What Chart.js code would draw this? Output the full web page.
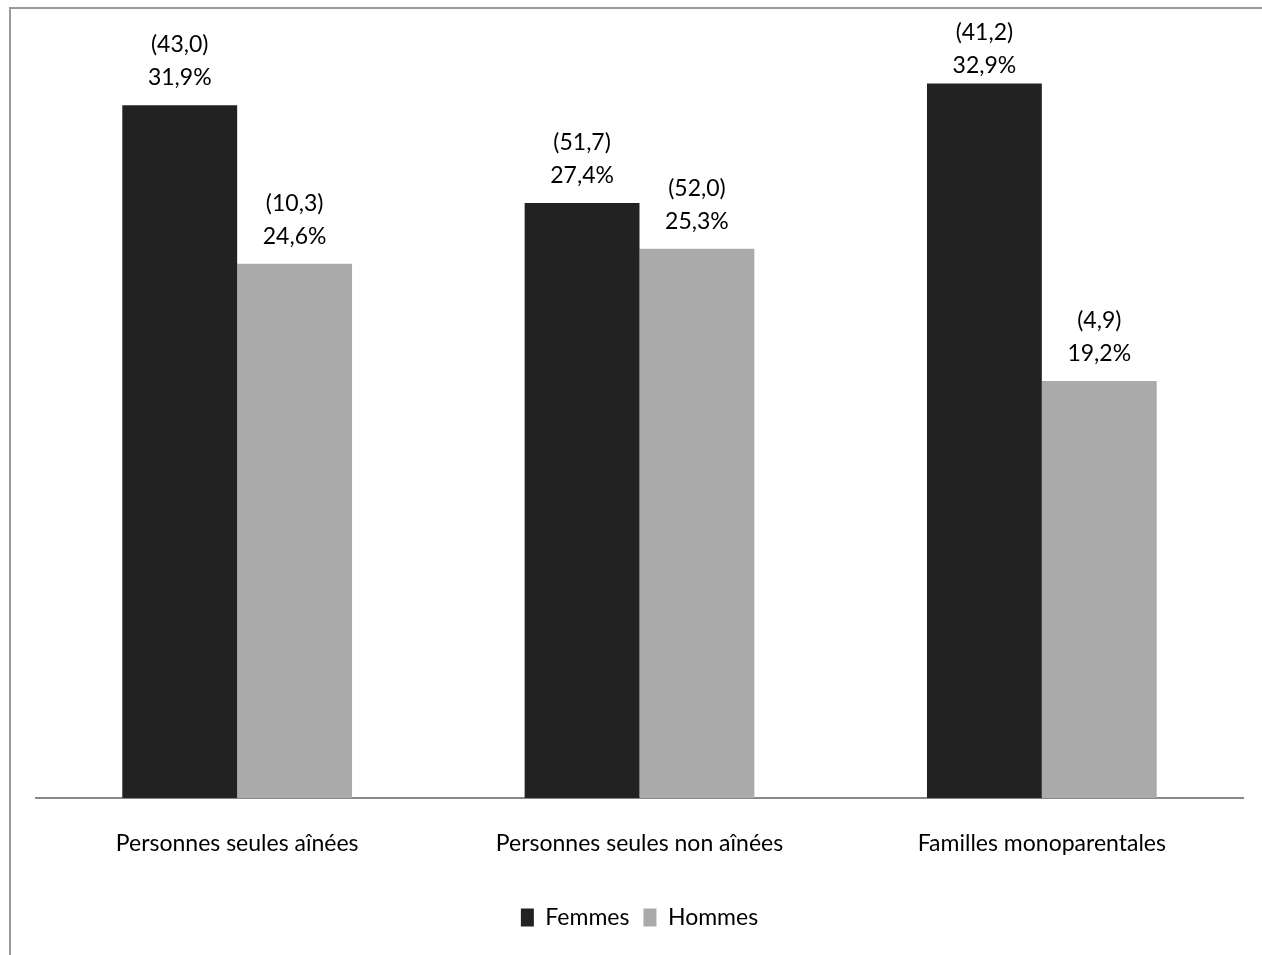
<!DOCTYPE html>
<html>
<head>
<meta charset="utf-8">
<script src="https://cdn.jsdelivr.net/npm/chart.js@4/dist/chart.umd.min.js"></script>
<style>
  html, body { margin: 0; padding: 0; background: #fff; }
  #wrap { position: relative; width: 1262px; height: 955px; }
</style>
</head>
<body>
<div id="wrap"><canvas id="chart"></canvas></div>
<script>
// categories and values
const categories = ['Personnes seules aînées', 'Personnes seules non aînées', 'Familles monoparentales'];
const femmesPct = [31.9, 27.4, 32.9];
const hommesPct = [24.6, 25.3, 19.2];
const femmesCounts = ['43,0', '51,7', '41,2'];
const hommesCounts = ['10,3', '52,0', '4,9'];

const FONT = 'Lato, "Open Sans", sans-serif';

// outer frame like the spreadsheet chart border
const framePlugin = {
    id: 'frame',
    beforeDraw(chart) {
        const ctx = chart.ctx;
        ctx.save();
        ctx.strokeStyle = '#9a9a9a';
        ctx.lineWidth = 2;
        ctx.beginPath();
        ctx.moveTo(10, chart.height + 5);
        ctx.lineTo(10, 8);
        ctx.lineTo(chart.width + 5, 8);
        ctx.stroke();
        ctx.restore();
    }
};

// two-line value labels above each bar: (count) then percent
// labels that would hit the frame get pushed down (like excel does)
const valueLabels = {
    id: 'valueLabels',
    afterDatasetsDraw(chart) {
        const ctx = chart.ctx;
        ctx.save();
        ctx.fillStyle = '#000';
        ctx.font = '23px ' + FONT;
        ctx.textAlign = 'center';
        ctx.textBaseline = 'alphabetic';
        chart.data.datasets.forEach((ds, i) => {
            const meta = chart.getDatasetMeta(i);
            meta.data.forEach((bar, j) => {
                const pct = ds.data[j].toFixed(1).replace('.', ',') + '%';
                const count = '(' + ds.counts[j] + ')';
                let countY = bar.y - 53;
                if (countY < 40) countY = 40;
                ctx.fillText(count, bar.x, countY);
                ctx.fillText(pct, bar.x, countY + 33);
            });
        });
        ctx.restore();
    }
};

const ctx = document.getElementById('chart').getContext('2d');
new Chart(ctx, {
    type: 'bar',
    data: {
        labels: categories,
        datasets: [
            {
                label: 'Femmes',
                data: femmesPct,
                counts: femmesCounts,
                backgroundColor: '#222222',
                borderWidth: 0
            },
            {
                label: 'Hommes',
                data: hommesPct,
                counts: hommesCounts,
                backgroundColor: '#aaaaaa',
                borderWidth: 0
            }
        ]
    },
    options: {
        responsive: true,
        maintainAspectRatio: false,
        animation: false,
        layout: {
            padding: { left: 36, right: 19, top: 38, bottom: 16 }
        },
        datasets: {
            bar: { categoryPercentage: 0.571, barPercentage: 1.0 }
        },
        plugins: {
            title: { display: false },
            tooltip: { enabled: false },
            legend: {
                display: true,
                position: 'bottom',
                labels: {
                    color: '#000',
                    font: { family: FONT, size: 23 },
                    boxWidth: 13,
                    boxHeight: 18,
                    padding: 14
                }
            }
        },
        scales: {
            x: {
                grid: { display: false, drawTicks: false },
                border: { display: true, color: '#888888', width: 2 },
                ticks: {
                    color: '#000',
                    font: { family: FONT, size: 23 },
                    padding: 32,
                    maxRotation: 0
                },
                afterFit(scale) { scale.height = 94; }
            },
            y: {
                display: false,
                min: 0,
                max: 35
            }
        }
    },
    plugins: [framePlugin, valueLabels]
});
</script>
</body>
</html>
